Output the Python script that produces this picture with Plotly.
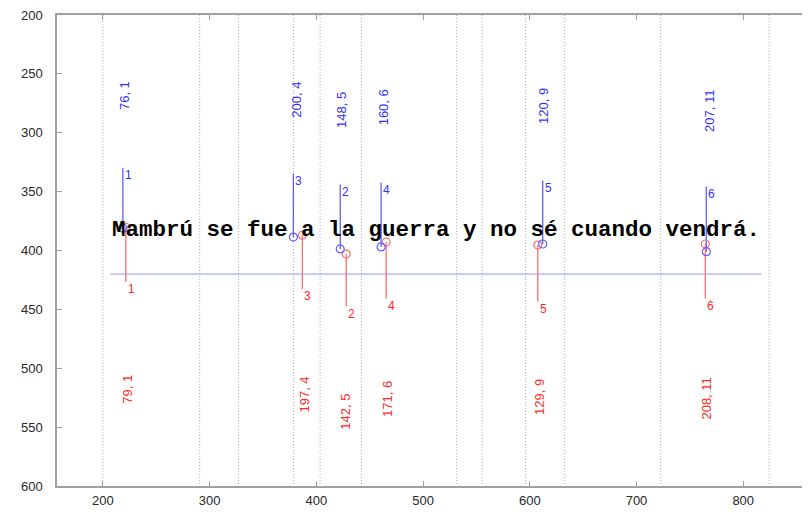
import plotly.graph_objects as go

# ---- data ----
grid_x = [200.0, 290.7, 327.1, 378.5, 403.5, 442.3, 531.5, 555.4, 596.0, 632.7, 722.7, 824.3]

blue_num = ["1", "3", "2", "4", "5", "6"]
blue_x = [218.7, 378.5, 422.4, 460.7, 612.1, 765.4]
blue_circle_y = [381.0, 388.6, 398.7, 397.0, 394.5, 401.0]
blue_top_y = [329.7, 334.7, 344.0, 342.3, 340.6, 345.7]
blue_lbl = ["76, 1", "200, 4", "148, 5", "160, 6", "120, 9", "207, 11"]
blue_lbl_x = [220.5, 381.3, 423.0, 462.6, 613.0, 768.2]
blue_lbl_y = [268.2, 271.6, 280.8, 278.3, 277.5, 281.3]

red_num = ["1", "3", "2", "4", "5", "6"]
red_x = [221.5, 386.9, 428.0, 465.4, 607.5, 764.5]
red_circle_y = [380.2, 387.0, 403.0, 392.8, 395.4, 394.5]
red_bot_y = [426.5, 433.0, 447.6, 440.8, 443.4, 440.8]
red_lbl = ["79, 1", "197, 4", "142, 5", "171, 6", "129, 9", "208, 11"]
red_lbl_x = [223.4, 388.8, 427.0, 466.0, 609.0, 765.4]
red_lbl_y = [517.5, 522.0, 536.8, 526.3, 524.0, 525.5]

hline_x = [207.0, 817.0]
hline_y = [420.0, 420.0]

sentence = "Mambrú se fue a la guerra y no sé cuando vendrá."
sentence_x = 206.5
sentence_y = 382.7

x_range = [157.0, 860.7]
y_range = [600, 200]

BLUE_LINE = "rgb(95,95,255)"
BLUE_TXT = "rgb(50,50,255)"
RED_LINE = "rgb(255,110,110)"
RED_TXT = "rgb(255,40,40)"


def segs(xs, y0s, y1s):
    X, Y = [], []
    for x, a, b in zip(xs, y0s, y1s):
        X += [x, x, None]
        Y += [a, b, None]
    return X, Y


fig = go.Figure()

# dotted vertical boundary lines
gx, gy = segs(grid_x, [y_range[1]] * len(grid_x), [y_range[0]] * len(grid_x))
fig.add_trace(go.Scatter(x=gx, y=gy, mode="lines",
                         line=dict(color="rgb(175,175,175)", width=1, dash="1px,2px"),
                         hoverinfo="skip", showlegend=False))

# horizontal reference line
fig.add_trace(go.Scatter(x=hline_x, y=hline_y, mode="lines",
                         line=dict(color="rgb(150,150,255)", width=1),
                         hoverinfo="skip", showlegend=False))

# blue stems
bx, by = segs(blue_x, blue_circle_y, blue_top_y)
fig.add_trace(go.Scatter(x=bx, y=by, mode="lines",
                         line=dict(color=BLUE_LINE, width=1.3),
                         hoverinfo="skip", showlegend=False))
# red stems
rx, ry = segs(red_x, red_circle_y, red_bot_y)
fig.add_trace(go.Scatter(x=rx, y=ry, mode="lines",
                         line=dict(color=RED_LINE, width=1.3),
                         hoverinfo="skip", showlegend=False))

fig.add_trace(go.Scatter(x=red_x, y=red_circle_y, mode="markers",
                         marker=dict(symbol="circle-open", size=8,
                                     color=RED_LINE, line=dict(width=1.2)),
                         showlegend=False))
fig.add_trace(go.Scatter(x=blue_x, y=blue_circle_y, mode="markers",
                         marker=dict(symbol="circle-open", size=8,
                                     color=BLUE_LINE, line=dict(width=1.2)),
                         showlegend=False))

ann = []
for x, y, t in zip(blue_x, blue_top_y, blue_num):
    ann.append(dict(x=x, y=y, text=t, showarrow=False, xanchor="left",
                    yanchor="top", xshift=0, yshift=2,
                    font=dict(family="Arial", size=12, color=BLUE_TXT)))
for x, y, t in zip(red_x, red_bot_y, red_num):
    ann.append(dict(x=x, y=y, text=t, showarrow=False, xanchor="left",
                    yanchor="top", xshift=0, yshift=2,
                    font=dict(family="Arial", size=12, color=RED_TXT)))
for x, y, t in zip(blue_lbl_x, blue_lbl_y, blue_lbl):
    ann.append(dict(x=x, y=y, text=t, showarrow=False, textangle=-90,
                    xanchor="center", yanchor="middle",
                    font=dict(family="Arial", size=13, color=BLUE_TXT)))
for x, y, t in zip(red_lbl_x, red_lbl_y, red_lbl):
    ann.append(dict(x=x, y=y, text=t, showarrow=False, textangle=-90,
                    xanchor="center", yanchor="middle",
                    font=dict(family="Arial", size=13, color=RED_TXT)))
ann.append(dict(x=sentence_x, y=sentence_y, text="<b>" + sentence + "</b>",
                showarrow=False, xanchor="left", yanchor="middle",
                font=dict(family="Liberation Mono, Courier New, monospace",
                          size=22.5, color="black")))

axis_common = dict(showline=True, mirror="ticks", linecolor="rgb(160,160,160)",
                   linewidth=1.5, ticks="inside", ticklen=5,
                   tickcolor="rgb(160,160,160)", showgrid=False, zeroline=False,
                   ticklabeloverflow="allow",
                   tickfont=dict(family="Arial", size=13, color="rgb(40,40,40)"))

fig.update_layout(
    width=802, height=508,
    margin=dict(l=49, r=0, t=1, b=30),
    paper_bgcolor="white", plot_bgcolor="white",
    xaxis=dict(range=x_range, tickmode="array",
               tickvals=[200, 300, 400, 500, 600, 700, 800],
               ticklabelstandoff=2, **axis_common),
    yaxis=dict(range=y_range, tickmode="array",
               tickvals=[200, 250, 300, 350, 400, 450, 500, 550, 600],
               ticklabelstandoff=10, **axis_common),
    annotations=ann,
    showlegend=False,
)

fig.write_html("out.html")
